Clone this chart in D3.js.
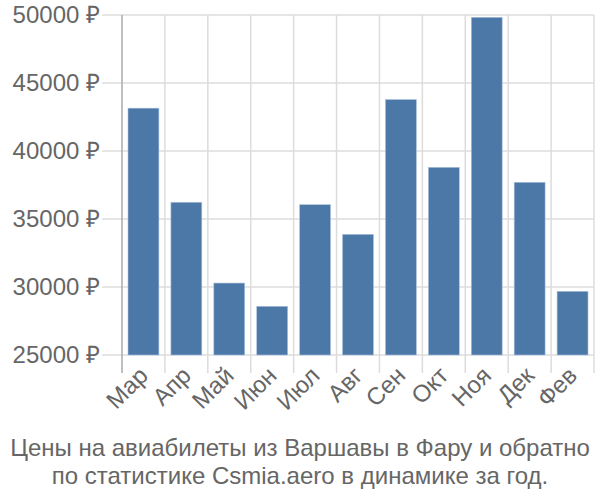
<!DOCTYPE html>
<html><head><meta charset="utf-8">
<script src="https://cdn.jsdelivr.net/npm/d3@7"></script>
<style>body{margin:0;background:#fff}text{font-family:"Liberation Sans",Arial,sans-serif}</style>
</head><body>
<svg id="c" width="600" height="500"></svg>
<script>
const categories = ["Мар","Апр","Май","Июн","Июл","Авг","Сен","Окт","Ноя","Дек","Фев"];
const values = [43150, 36230, 30290, 28580, 36050, 33870, 43780, 38800, 49830, 37700, 29680];
const yTicks = [25000, 30000, 35000, 40000, 45000, 50000];
const titleLines = ["Цены на авиабилеты из Варшавы в Фару и обратно", "по статистике Csmia.aero в динамике за год."];

const svg = d3.select("#c");
const L = 122, R = 594, T = 15, B = 355;
const x = d3.scaleBand().domain(categories).range([L, R]).paddingInner(0.28).paddingOuter(0.14);
const y = d3.scaleLinear().domain([25000, 50000]).range([B, T]);
const step = x.step();
const bounds = d3.range(categories.length + 1).map(i => L + i * step);

// horizontal grid
svg.append("g").selectAll("line").data(yTicks).join("line")
  .attr("x1", 102).attr("x2", R).attr("y1", d => y(d)).attr("y2", d => y(d))
  .attr("stroke", "#dcdcdc").attr("stroke-width", 1.5);
// vertical grid + ticks below
svg.append("g").selectAll("line").data(bounds.slice(1)).join("line")
  .attr("x1", d => d).attr("x2", d => d).attr("y1", T).attr("y2", B + 18)
  .attr("stroke", "#dcdcdc").attr("stroke-width", 1.5);
// y axis line
svg.append("line").attr("x1", L).attr("x2", L).attr("y1", T).attr("y2", B + 18)
  .attr("stroke", "#aaaaaa").attr("stroke-width", 1.5);

// bars
svg.append("g").selectAll("rect").data(values).join("rect")
  .attr("x", (d, i) => x(categories[i])).attr("width", x.bandwidth())
  .attr("y", d => y(d)).attr("height", d => B - y(d))
  .attr("fill", "#4c78a8").attr("stroke", "#a9c0dc").attr("stroke-width", 0.6);

// y labels
svg.append("g").selectAll("text").data(yTicks).join("text")
  .attr("x", 100).attr("y", d => y(d)).attr("dy", "0.35em")
  .attr("text-anchor", "end").attr("fill", "#666").attr("font-size", 24)
  .text(d => d + " ₽");

// x labels
svg.append("g").selectAll("text").data(categories).join("text")
  .attr("transform", d => `translate(${x(d) + x.bandwidth() / 2 + 6},${B + 22}) rotate(-45)`)
  .attr("text-anchor", "end").attr("fill", "#666").attr("font-size", 24)
  .text(d => d);

// title
svg.append("g").selectAll("text").data(titleLines).join("text")
  .attr("x", 300).attr("y", (d, i) => 456 + i * 28)
  .attr("text-anchor", "middle").attr("fill", "#666").attr("font-size", 24)
  .text(d => d);
</script>
</body></html>
